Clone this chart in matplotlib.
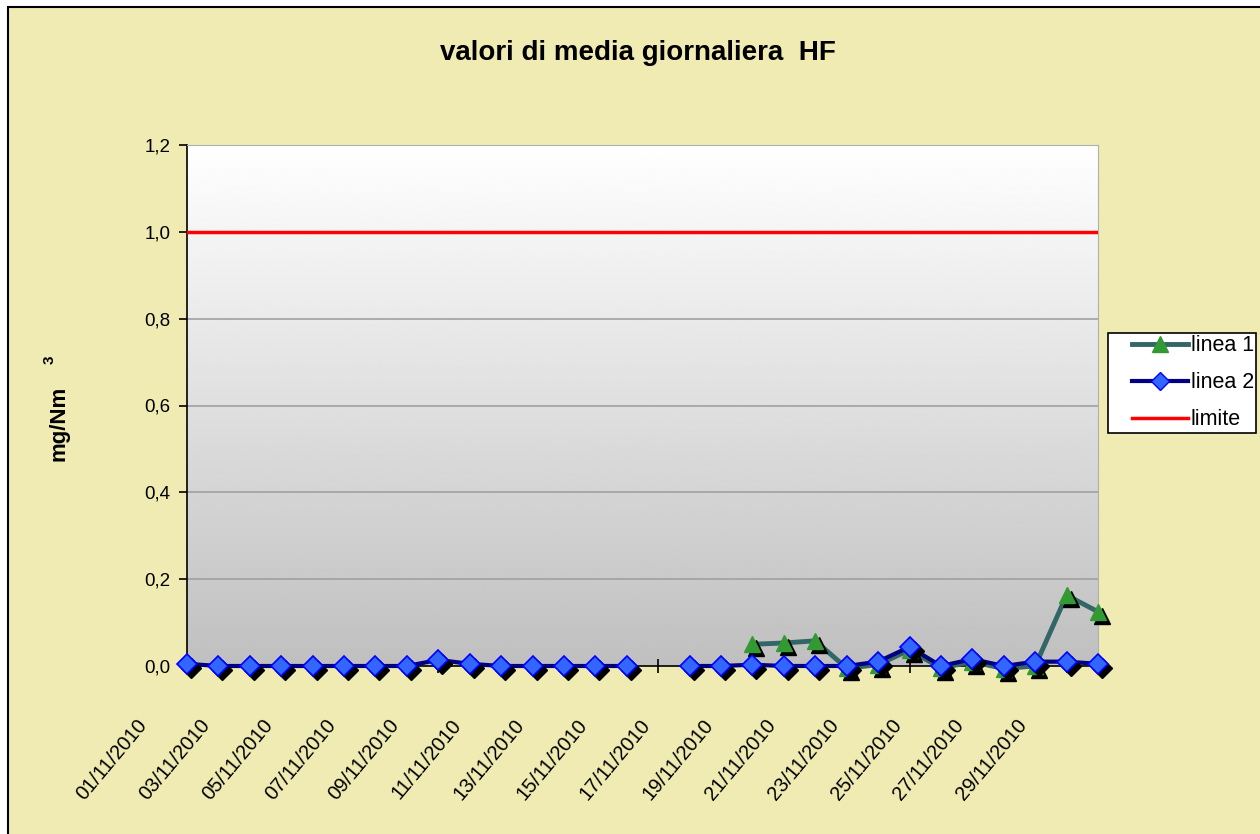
import matplotlib.pyplot as plt
import matplotlib.transforms as mtransforms
from matplotlib.patches import Rectangle
from matplotlib.lines import Line2D
from matplotlib.legend_handler import HandlerLine2D
import numpy as np

plt.rcParams['font.family'] = ['Liberation Sans', 'DejaVu Sans']

dates = ['%02d/11/2010' % d for d in range(1, 31)]
nan = np.nan
linea1 = [nan] * 18 + [0.050, 0.053, 0.058, -0.005, 0.003, 0.037, -0.005, 0.010,
                       -0.006, 0.000, 0.163, 0.125]
linea2 = [0.005, 0.0, 0.0, 0.0, 0.0, 0.0, 0.0, 0.0, 0.014, 0.005,
          0.0, 0.0, 0.0, 0.0, 0.0, nan, 0.0, 0.0, 0.003, 0.0,
          0.0, 0.0, 0.010, 0.044, 0.0, 0.016, 0.0, 0.010, 0.010, 0.005]
limite = [1.0] * 30
yticks = [0.0, 0.2, 0.4, 0.6, 0.8, 1.0, 1.2]

x = np.arange(len(dates))

fig = plt.figure(figsize=(12.6, 8.34), dpi=100, facecolor='white')
# chart area background with border
fig.patches.append(Rectangle((8 / 1260, -0.1), 1.2, 1 - 7 / 834 + 0.1,
                             transform=fig.transFigure, facecolor='#efebb3',
                             edgecolor='black', lw=1.5, zorder=-10))

ax = fig.add_axes([187 / 1260, 1 - 666 / 834, (1098 - 187) / 1260, (666 - 145) / 834])

# gradient plot area: white at top, grey at bottom
grad = np.linspace(0.75, 1.0, 256).reshape(-1, 1)
ax.imshow(grad, cmap='gray', vmin=0, vmax=1, aspect='auto',
          extent=[0, 29, 0, 1.2], origin='lower', zorder=0)
ax.set_xlim(0, 29)
ax.set_ylim(0, 1.2)

for yv in yticks[1:]:
    ax.axhline(yv, color='#a0a0a0', lw=1.2, zorder=1)

for s in ['top', 'right']:
    ax.spines[s].set_color('#b0b0b0')
for s in ['left', 'bottom']:
    ax.spines[s].set_color('black')
    ax.spines[s].set_linewidth(1.2)

shadow = mtransforms.offset_copy(ax.transData, fig=fig, x=4, y=-4, units='dots')

ax.plot(x, limite, color='#ff0000', lw=2.5, zorder=3, label='limite')

ax.plot(x, linea1, color='#336666', lw=3.5, zorder=4, clip_on=False)
ax.plot(x, linea1, ls='none', marker='^', ms=11, color='black', transform=shadow,
        zorder=4, clip_on=False)
ax.plot(x, linea1, ls='none', marker='^', ms=11, color='#339933', zorder=4,
        clip_on=False)

ax.plot(x, linea2, color='#000080', lw=3, zorder=5, clip_on=False)
ax.plot(x, linea2, ls='none', marker='D', ms=10.5, color='black', transform=shadow,
        zorder=5, clip_on=False)
ax.plot(x, linea2, ls='none', marker='D', ms=10.5, mfc='#3366ff', mec='#0000ff',
        mew=1.2, zorder=5, clip_on=False)

ax.set_yticks(yticks)
ax.set_yticklabels([('%.1f' % v).replace('.', ',') for v in yticks], fontsize=13.5)
ax.tick_params(axis='y', direction='out', length=6, width=1.2, pad=6)

ax.set_xticks(x, minor=True)
ax.set_xticks(x[::2])
ax.set_xticklabels(dates[::2], rotation=50, ha='right', va='center',
                   rotation_mode='anchor', fontsize=14.5)
ax.tick_params(axis='x', which='both', direction='inout', length=10, width=1.2, pad=0)
off = mtransforms.ScaledTranslation(-43 / 100, -49 / 100, fig.dpi_scale_trans)
for lab in ax.get_xticklabels():
    lab.set_transform(lab.get_transform() + off)

fig.text(59 / 1260, 1 - 423 / 834, 'mg/Nm', rotation=90, ha='center', va='center',
         fontsize=16, fontweight='bold')
fig.text(50 / 1260, 1 - 360 / 834, '3', rotation=90, ha='center', va='center',
         fontsize=11, fontweight='bold')
fig.text(638 / 1260, 1 - 53 / 834, 'valori di media giornaliera  HF', ha='center',
         va='center', fontsize=20, fontweight='bold')

handles = [
    Line2D([], [], color='#336666', lw=3.5, marker='^', ms=11, mfc='#339933', mec='#339933'),
    Line2D([], [], color='#000080', lw=3, marker='D', ms=9, mfc='#3366ff', mec='#0000ff'),
    Line2D([], [], color='#ff0000', lw=2.5),
]
hmap = {h: HandlerLine2D(xpad=1.0) for h in handles}
leg = fig.legend(handles, ['linea 1', 'linea 2', 'limite'], loc='upper left',
                 bbox_to_anchor=(1108 / 1260, 1 - 333 / 834), fontsize=15.5,
                 frameon=True, fancybox=False, edgecolor='black', framealpha=1,
                 handlelength=3.6, handletextpad=0.15, borderpad=0.1,
                 labelspacing=0.75, borderaxespad=0, handler_map=hmap)
leg.get_frame().set_linewidth(1.2)

fig.savefig('out.png', dpi=100, facecolor=fig.get_facecolor())
